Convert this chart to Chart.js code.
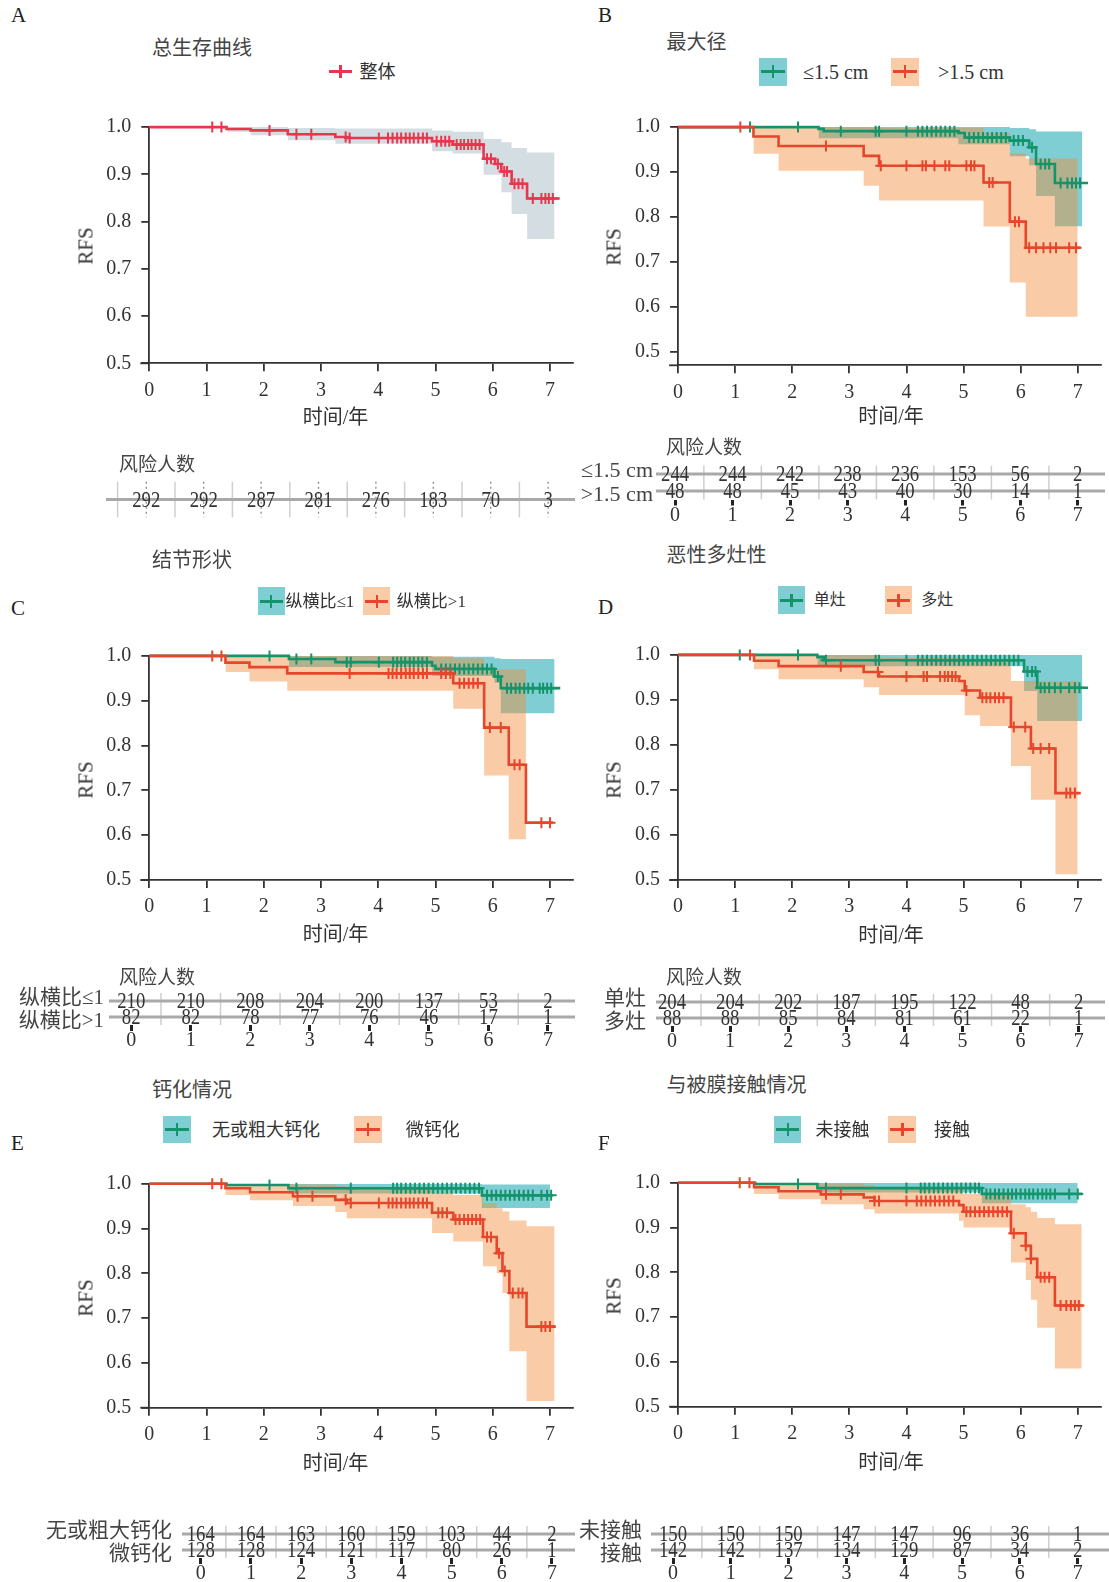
<!DOCTYPE html>
<html><head><meta charset="utf-8">
<script src="https://cdn.jsdelivr.net/npm/chart.js@4.4.1/dist/chart.umd.min.js"></script>
<style>
html,body{margin:0;padding:0;background:#fff;}
body{width:1109px;height:1582px;position:relative;overflow:hidden;}
canvas{position:absolute;}
.t{position:absolute;white-space:nowrap;line-height:1;}
</style></head><body>
<script>
// ---------------- DATA ----------------
const xTicks = [0, 1, 2, 3, 4, 5, 6, 7];
const yTicks = [0.5, 0.6, 0.7, 0.8, 0.9, 1.0];
const riskCols = [0, 1, 2, 3, 4, 5, 6, 7];

// A: overall
const A_time = [0, 1.35, 1.77, 2.42, 3.25, 3.45, 4.94, 5.30, 5.84, 6.04, 6.15, 6.33, 6.60];
const A_surv = [1.0, 0.996, 0.993, 0.985, 0.979, 0.977, 0.970, 0.963, 0.933, 0.922, 0.906, 0.880, 0.849];
const A_end = 7.17;
const A_cens = [1.10, 1.26, 2.10, 2.57, 2.83, 3.43, 3.50, 4.01, 4.17, 4.25, 4.33, 4.40, 4.48, 4.55, 4.62, 4.70, 4.78, 4.85, 5.02, 5.10, 5.17, 5.24, 5.37, 5.44, 5.50, 5.57, 5.63, 5.70, 5.77, 5.90, 5.97, 6.09, 6.20, 6.25, 6.38, 6.45, 6.52, 6.70, 6.85, 6.92, 6.98, 7.05];
const A_ciTime = [1.35, 1.77, 2.42, 3.25, 4.94, 5.30, 5.84, 6.15, 6.33, 6.60];
const A_ciLow = [0.990, 0.983, 0.972, 0.965, 0.949, 0.944, 0.899, 0.862, 0.816, 0.763];
const A_ciHigh = [1.0, 1.0, 0.998, 0.997, 0.993, 0.990, 0.975, 0.968, 0.956, 0.946];
const A_ciEnd = 7.08;
const A_risk = [292, 292, 287, 281, 276, 183, 70, 3];

// B: max diameter
const B_labels = ['≤1.5 cm', '>1.5 cm'];
const B1_time = [0, 2.46, 2.55, 4.91, 5.02, 5.81, 6.15, 6.27, 6.60];
const B1_surv = [1.0, 0.996, 0.991, 0.987, 0.977, 0.970, 0.955, 0.918, 0.876];
const B1_end = 7.18;
const B1_cens = [1.26, 2.10, 2.85, 3.46, 3.52, 4.00, 4.20, 4.28, 4.36, 4.44, 4.52, 4.60, 4.68, 4.76, 4.84, 5.10, 5.18, 5.26, 5.34, 5.42, 5.50, 5.58, 5.66, 5.74, 5.88, 5.96, 6.04, 6.20, 6.35, 6.43, 6.50, 6.70, 6.82, 6.90, 6.97, 7.04];
const B1_ciTime = [2.46, 4.91, 5.81, 6.15, 6.27, 6.60];
const B1_ciLow = [0.975, 0.962, 0.935, 0.915, 0.847, 0.780];
const B1_ciHigh = [1.0, 1.0, 0.998, 0.995, 0.990, 0.990];
const B1_ciEnd = 7.08;
const B2_time = [0, 1.32, 1.76, 3.25, 3.52, 5.35, 5.81, 6.09];
const B2_surv = [1.0, 0.979, 0.958, 0.936, 0.914, 0.877, 0.790, 0.732];
const B2_end = 7.05;
const B2_cens = [1.09, 2.59, 3.55, 4.00, 4.28, 4.34, 4.49, 4.68, 4.75, 5.05, 5.13, 5.19, 5.45, 5.51, 5.90, 5.97, 6.15, 6.27, 6.40, 6.52, 6.62, 6.85, 6.97];
const B2_ciTime = [1.32, 1.76, 3.25, 3.52, 5.35, 5.81, 6.09];
const B2_ciLow = [0.941, 0.903, 0.870, 0.837, 0.779, 0.655, 0.579];
const B2_ciHigh = [1.0, 1.0, 1.0, 0.998, 0.987, 0.942, 0.930];
const B2_ciEnd = 7.0;
const B1_risk = [244, 244, 242, 238, 236, 153, 56, 2];
const B2_risk = [48, 48, 45, 43, 40, 30, 14, 1];

// C: nodule shape
const C_labels = ['纵横比≤1', '纵横比>1'];
const C1_time = [0, 2.44, 3.25, 4.94, 5.00, 6.03, 6.14];
const C1_surv = [1.0, 0.993, 0.986, 0.978, 0.971, 0.954, 0.928];
const C1_end = 7.18;
const C1_cens = [2.10, 2.57, 2.83, 3.45, 3.52, 4.01, 4.26, 4.33, 4.40, 4.47, 4.55, 4.62, 4.70, 4.77, 4.85, 5.10, 5.18, 5.26, 5.34, 5.42, 5.50, 5.58, 5.66, 5.74, 5.82, 5.90, 5.98, 6.09, 6.25, 6.32, 6.40, 6.47, 6.55, 6.62, 6.70, 6.82, 6.88, 6.95, 7.02];
const C1_ciTime = [2.44, 4.94, 6.03, 6.14];
const C1_ciLow = [0.975, 0.955, 0.940, 0.872];
const C1_ciHigh = [1.0, 0.998, 0.995, 0.993];
const C1_ciEnd = 7.08;
const C2_time = [0, 1.33, 1.75, 2.41, 5.31, 5.85, 6.28, 6.58];
const C2_surv = [1.0, 0.985, 0.975, 0.961, 0.939, 0.840, 0.757, 0.628];
const C2_end = 7.05;
const C2_cens = [1.10, 1.26, 3.50, 4.18, 4.25, 4.32, 4.40, 4.48, 4.55, 4.62, 4.70, 4.78, 4.85, 5.10, 5.18, 5.26, 5.42, 5.50, 5.58, 5.66, 5.74, 5.95, 6.14, 6.38, 6.47, 6.85, 7.00];
const C2_ciTime = [1.33, 1.75, 2.41, 5.31, 5.85, 6.28];
const C2_ciLow = [0.964, 0.943, 0.922, 0.882, 0.733, 0.591];
const C2_ciHigh = [1.0, 1.0, 1.0, 0.995, 0.970, 0.970];
const C2_ciEnd = 6.58;
const C1_risk = [210, 210, 208, 204, 200, 137, 53, 2];
const C2_risk = [82, 82, 78, 77, 76, 46, 17, 1];

// D: multifocality
const D_labels = ['单灶', '多灶'];
const D1_time = [0, 2.44, 2.55, 6.06, 6.29];
const D1_surv = [1.0, 0.995, 0.988, 0.963, 0.927];
const D1_end = 7.18;
const D1_cens = [1.08, 2.10, 2.59, 3.46, 3.52, 4.00, 4.20, 4.28, 4.36, 4.44, 4.52, 4.60, 4.68, 4.76, 4.84, 4.92, 5.00, 5.08, 5.16, 5.24, 5.32, 5.40, 5.48, 5.56, 5.64, 5.72, 5.80, 5.88, 5.96, 6.12, 6.20, 6.26, 6.35, 6.42, 6.50, 6.60, 6.70, 6.85, 6.95, 7.03];
const D1_ciTime = [2.44, 6.06, 6.29];
const D1_ciLow = [0.975, 0.920, 0.853];
const D1_ciHigh = [1.0, 1.0, 1.0];
const D1_ciEnd = 7.08;
const D2_time = [0, 1.33, 1.76, 3.25, 3.52, 4.92, 5.02, 5.29, 5.83, 6.18, 6.61];
const D2_surv = [1.0, 0.987, 0.975, 0.962, 0.952, 0.942, 0.921, 0.905, 0.840, 0.792, 0.693];
const D2_end = 7.05;
const D2_cens = [1.26, 2.85, 3.50, 4.00, 4.30, 4.36, 4.59, 4.67, 4.73, 4.80, 4.86, 5.05, 5.33, 5.40, 5.47, 5.55, 5.62, 5.70, 5.88, 6.08, 6.22, 6.35, 6.50, 6.80, 6.87, 6.95];
const D2_ciTime = [1.33, 1.76, 3.25, 3.52, 5.02, 5.29, 5.83, 6.18, 6.61];
const D2_ciLow = [0.968, 0.946, 0.928, 0.911, 0.866, 0.842, 0.753, 0.678, 0.513];
const D2_ciHigh = [1.0, 1.0, 1.0, 0.995, 0.990, 0.985, 0.942, 0.942, 0.942];
const D2_ciEnd = 7.0;
const D1_risk = [204, 204, 202, 187, 195, 122, 48, 2];
const D2_risk = [88, 88, 85, 84, 81, 61, 22, 1];

// E: calcification
const E_labels = ['无或粗大钙化', '微钙化'];
const E1_time = [0, 1.35, 2.43, 5.81];
const E1_surv = [1.0, 0.997, 0.990, 0.974];
const E1_end = 7.05;
const E1_cens = [2.10, 2.57, 3.52, 4.26, 4.33, 4.40, 4.48, 4.56, 4.64, 4.72, 4.80, 4.88, 4.96, 5.04, 5.12, 5.20, 5.28, 5.36, 5.44, 5.52, 5.60, 5.68, 5.76, 5.90, 5.98, 6.06, 6.14, 6.22, 6.30, 6.38, 6.46, 6.54, 6.62, 6.70, 6.85, 6.95, 7.02];
const E1_ciTime = [2.43, 5.81];
const E1_ciLow = [0.978, 0.946];
const E1_ciHigh = [1.0, 0.998];
const E1_ciEnd = 7.0;
const E2_time = [0, 1.33, 1.76, 2.51, 3.25, 3.45, 4.94, 5.31, 5.83, 6.07, 6.17, 6.29, 6.59];
const E2_surv = [1.0, 0.990, 0.981, 0.972, 0.964, 0.957, 0.935, 0.920, 0.881, 0.845, 0.805, 0.756, 0.681];
const E2_end = 7.10;
const E2_cens = [1.10, 1.26, 2.59, 2.85, 3.43, 3.52, 4.01, 4.18, 4.25, 4.32, 4.40, 4.48, 4.55, 4.62, 4.70, 4.78, 4.85, 5.05, 5.12, 5.20, 5.35, 5.42, 5.50, 5.57, 5.64, 5.71, 5.78, 5.90, 5.97, 6.11, 6.21, 6.35, 6.45, 6.52, 6.85, 6.92, 7.00];
const E2_ciTime = [1.33, 1.76, 2.51, 3.25, 3.45, 4.94, 5.31, 5.83, 6.07, 6.17, 6.29, 6.59];
const E2_ciLow = [0.975, 0.963, 0.950, 0.937, 0.923, 0.890, 0.871, 0.816, 0.800, 0.756, 0.626, 0.515];
const E2_ciHigh = [1.0, 1.0, 0.998, 0.995, 0.990, 0.980, 0.975, 0.957, 0.945, 0.938, 0.918, 0.905];
const E2_ciEnd = 7.08;
const E1_risk = [164, 164, 163, 160, 159, 103, 44, 2];
const E2_risk = [128, 128, 124, 121, 117, 80, 26, 1];

// F: capsule contact
const F_labels = ['未接触', '接触'];
const F1_time = [0, 1.35, 2.44, 5.32];
const F1_surv = [1.0, 0.997, 0.988, 0.975];
const F1_end = 7.08;
const F1_cens = [2.10, 2.59, 4.00, 4.25, 4.32, 4.40, 4.48, 4.56, 4.64, 4.72, 4.80, 4.88, 4.96, 5.04, 5.12, 5.20, 5.27, 5.40, 5.47, 5.55, 5.62, 5.70, 5.78, 5.85, 5.92, 6.00, 6.08, 6.15, 6.22, 6.30, 6.38, 6.45, 6.52, 6.60, 6.85, 7.00];
const F1_ciTime = [2.44, 5.32];
const F1_ciLow = [0.978, 0.954];
const F1_ciHigh = [1.0, 1.0];
const F1_ciEnd = 7.0;
const F2_time = [0, 1.33, 1.76, 2.50, 3.25, 3.44, 4.92, 5.00, 5.83, 6.09, 6.18, 6.29, 6.60];
const F2_surv = [1.0, 0.990, 0.981, 0.974, 0.967, 0.959, 0.950, 0.935, 0.887, 0.859, 0.830, 0.789, 0.726];
const F2_end = 7.10;
const F2_cens = [1.08, 1.25, 2.59, 2.85, 3.44, 3.52, 4.00, 4.18, 4.26, 4.34, 4.42, 4.50, 4.58, 4.66, 4.74, 4.82, 5.05, 5.12, 5.20, 5.28, 5.36, 5.44, 5.52, 5.60, 5.68, 5.76, 5.88, 6.09, 6.18, 6.35, 6.42, 6.50, 6.70, 6.80, 6.88, 6.95, 7.02];
const F2_ciTime = [1.33, 1.76, 2.50, 3.25, 3.44, 4.92, 5.00, 5.83, 6.09, 6.18, 6.29, 6.60];
const F2_ciLow = [0.975, 0.963, 0.952, 0.941, 0.931, 0.915, 0.900, 0.822, 0.783, 0.739, 0.676, 0.585];
const F2_ciHigh = [1.0, 1.0, 0.998, 0.995, 0.990, 0.985, 0.975, 0.952, 0.945, 0.935, 0.921, 0.907];
const F2_ciEnd = 7.07;
const F1_risk = [150, 150, 150, 147, 147, 96, 36, 1];
const F2_risk = [142, 142, 137, 134, 129, 87, 34, 2];

// ---------------- STYLE ----------------
const SERIF = '"Liberation Serif", "Noto Sans CJK SC", serif';
const CJK = '"Noto Sans CJK SC", sans-serif';
const GREEN = '#14946a';
const ORANGE = '#e6462b';
const RED_A = '#e8364e';
const TEAL_BAND = 'rgba(20,165,175,0.55)';
const ORANGE_BAND = 'rgba(245,140,60,0.45)';
const GRAY_BAND = 'rgba(160,182,190,0.45)';
const AXIS = '#333';

// ---------------- HELPERS ----------------
function mkCanvas(l, t, w, h) {
  const c = document.createElement('canvas');
  c.width = w; c.height = h;
  c.style.left = l + 'px'; c.style.top = t + 'px';
  c.style.width = w + 'px'; c.style.height = h + 'px';
  document.body.appendChild(c);
  return c;
}
function txt(s, x, y, size, family, color, anchor, rotate) {
  const d = document.createElement('div');
  d.className = 't';
  d.textContent = s;
  d.style.left = x + 'px'; d.style.top = y + 'px';
  d.style.fontSize = size + 'px'; d.style.fontFamily = family; d.style.color = color || '#333';
  let tx = anchor === 'center' ? '-50%' : (anchor === 'right' ? '-100%' : '0');
  d.style.transform = 'translate(' + tx + ',-50%)';
  if (rotate) { d.style.transformOrigin = '0 0'; d.style.transform = 'rotate(' + rotate + 'deg) translate(-50%,-50%)'; }
  document.body.appendChild(d);
  return d;
}
function rect(l, t, w, h, bg) {
  const d = document.createElement('div');
  d.style.position = 'absolute'; d.style.left = l + 'px'; d.style.top = t + 'px';
  d.style.width = w + 'px'; d.style.height = h + 'px'; d.style.background = bg;
  document.body.appendChild(d);
}
function legendSym(l, r, cy, color) {
  rect(l, cy - 1.5, r - l, 3, color);
  rect((l + r) / 2 - 1.25, cy - 6.5, 2.5, 13, color);
}
function stepPts(times, vals, end) {
  const p = times.map((t, i) => ({ x: t, y: vals[i] }));
  p.push({ x: end, y: vals[vals.length - 1] });
  return p;
}
function stepAt(times, vals, t) {
  let v = vals[0];
  for (let i = 0; i < times.length; i++) if (times[i] <= t) v = vals[i];
  return v;
}

const axisExt = {
  id: 'axisExt',
  afterDraw(chart) {
    const { ctx, chartArea: a } = chart;
    ctx.save(); ctx.strokeStyle = AXIS; ctx.lineWidth = 1.8;
    ctx.beginPath(); ctx.moveTo(a.left - 9, a.bottom); ctx.lineTo(a.left, a.bottom); ctx.stroke();
    ctx.restore();
  }
};

function makePanel(p) {
  const cl = Math.floor(p.L - 80), ct = Math.floor(p.T - 30), cr = Math.ceil(p.R + 15), cb = Math.ceil(p.B + 45);
  const cv = mkCanvas(cl, ct, cr - cl, cb - ct);
  const ds = [];
  p.groups.forEach((g, gi) => {
    ds.push({ data: stepPts(g.ciT, g.ciHi, g.ciEnd), stepped: true, borderWidth: 0, borderColor: 'rgba(0,0,0,0)', pointRadius: 0, fill: false, order: 10 - gi * 2 });
    ds.push({ data: stepPts(g.ciT, g.ciLo, g.ciEnd), stepped: true, borderWidth: 0, borderColor: 'rgba(0,0,0,0)', pointRadius: 0, fill: '-1', backgroundColor: g.band, order: 10 - gi * 2 });
  });
  p.groups.forEach((g, gi) => {
    ds.push({ data: stepPts(g.time, g.surv, g.end), stepped: true, borderColor: g.color, borderWidth: 2.6, pointRadius: 0, fill: false, order: 5 - gi * 2, clip: false });
    ds.push({ data: g.cens.map(t => ({ x: t, y: stepAt(g.time, g.surv, t) })), showLine: false, pointStyle: 'cross', pointRadius: 5.5, pointBorderWidth: 2, borderColor: g.color, backgroundColor: g.color, order: 4 - gi * 2, clip: false });
  });
  const gridOpt = { display: true, drawOnChartArea: false, drawTicks: true, tickLength: 8, color: AXIS, lineWidth: 1.8 };
  new Chart(cv, {
    type: 'line',
    data: { datasets: ds },
    options: {
      responsive: false, animation: false, devicePixelRatio: 1, events: [],
      layout: { padding: { left: 0, top: p.T - ct, right: cr - p.R, bottom: 0 } },
      plugins: { legend: { display: false }, tooltip: { enabled: false } },
      scales: {
        x: {
          type: 'linear', min: 0, max: 7.4,
          afterBuildTicks(s) { s.ticks = xTicks.map(v => ({ value: v })); },
          afterFit(s) { s.height = cb - p.B; },
          grid: gridOpt, border: { display: true, color: AXIS, width: 1.8 },
          ticks: { font: { family: SERIF, size: 20, lineHeight: 1 }, color: '#333', padding: 9, maxRotation: 0, autoSkip: false, callback: v => String(v) }
        },
        y: {
          type: 'linear', min: p.ymin, max: 1.0,
          afterBuildTicks(s) { s.ticks = yTicks.map(v => ({ value: v })); },
          afterFit(s) { s.width = p.L - cl; },
          grid: gridOpt, border: { display: true, color: AXIS, width: 1.8 },
          ticks: { font: { family: SERIF, size: 20, lineHeight: 1 }, color: '#333', padding: 10, autoSkip: false, callback: v => Number(v).toFixed(1) }
        }
      }
    },
    plugins: [axisExt]
  });
}

function makeTable(tb) {
  const cl = tb.cl, cr = tb.cr;
  const ct = Math.floor(tb.T - 25);
  const cb = Math.min(1582, Math.ceil(tb.B + 32));
  const cv = mkCanvas(cl, ct, cr - cl, cb - ct);
  const min = (tb.L - tb.x0) / tb.step, max = (tb.R - tb.x0) / tb.step;
  const labelDy = [-3, 4];
  const ds = tb.rows.map((r, ri) => ({ nums: r.vals, rowLabel: r.label, data: riskCols.map(c => ({ x: c, y: ri })), pointRadius: 0, showLine: false }));
  const plug = {
    id: 'riskTable',
    beforeDatasetsDraw(chart) {
      const { ctx, chartArea: a, scales } = chart;
      const xs = scales.x, ys = scales.y;
      ctx.save();
      ctx.strokeStyle = '#cfcfcf'; ctx.lineWidth = 1.5;
      tb.vlines.forEach(v => {
        const px = xs.getPixelForValue(v);
        ctx.beginPath(); ctx.moveTo(px, a.top); ctx.lineTo(px, a.bottom); ctx.stroke();
      });
      if (tb.dotted) {
        ctx.strokeStyle = '#8a8a8a'; ctx.setLineDash([2, 3]); ctx.lineWidth = 1.3;
        riskCols.forEach(v => {
          const px = xs.getPixelForValue(v);
          ctx.beginPath(); ctx.moveTo(px, a.top); ctx.lineTo(px, a.bottom); ctx.stroke();
        });
        ctx.setLineDash([]);
      }
      ctx.strokeStyle = '#a9a9a9'; ctx.lineWidth = 3;
      tb.rows.forEach((r, ri) => {
        const py = ys.getPixelForValue(ri);
        ctx.beginPath(); ctx.moveTo(a.left, py); ctx.lineTo(a.right, py); ctx.stroke();
      });
      ctx.restore();
    },
    afterDatasetsDraw(chart) {
      const { ctx } = chart;
      ctx.save();
      ctx.fillStyle = '#333'; ctx.textAlign = 'center'; ctx.textBaseline = 'middle';
      ctx.font = '24px ' + SERIF;
      chart.data.datasets.forEach((d, i) => {
        const meta = chart.getDatasetMeta(i);
        meta.data.forEach((el, j) => {
          ctx.save(); ctx.translate(el.x, el.y + 1); ctx.scale(0.78, 1);
          ctx.fillText(String(d.nums[j]), 0, 0); ctx.restore();
        });
        if (d.rowLabel) {
          ctx.save(); ctx.textAlign = 'right'; ctx.fillStyle = '#444'; ctx.font = tb.labelSize + 'px ' + SERIF;
          ctx.fillText(d.rowLabel, tb.labelRight - cl, chart.scales.y.getPixelForValue(i) + labelDy[i]);
          ctx.restore();
        }
      });
      ctx.restore();
    }
  };
  new Chart(cv, {
    type: 'scatter',
    data: { datasets: ds },
    options: {
      responsive: false, animation: false, devicePixelRatio: 1, events: [],
      layout: { padding: { left: tb.L - cl, right: cr - tb.R, top: tb.T - ct, bottom: tb.ticks ? 0 : (cb - tb.B) } },
      plugins: { legend: { display: false }, tooltip: { enabled: false } },
      scales: {
        x: {
          type: 'linear', min, max, display: tb.ticks,
          afterBuildTicks(s) { s.ticks = riskCols.map(v => ({ value: v })); },
          afterFit(s) { s.height = tb.ticks ? (cb - tb.B) : 0; },
          grid: { display: true, drawOnChartArea: false, drawTicks: true, tickLength: 6, lineWidth: 3, color: '#222' },
          border: { display: false },
          ticks: { font: { family: SERIF, size: 20, lineHeight: 1 }, color: '#333', padding: 0, autoSkip: false, maxRotation: 0, callback: v => String(v) }
        },
        y: { type: 'linear', display: false, reverse: true, min: -0.5, max: tb.rows.length - 0.5 }
      }
    },
    plugins: [plug]
  });
}

// ---------------- PANELS ----------------
const LX = 149.3, LR = 149.3 + 7.4 * 57.24;
const RX = 678.1, RR = 678.1 + 7.4 * 57.09;
const G = (time, surv, end, cens, ciT, ciLo, ciHi, ciEnd, color, band) => ({ time, surv, end, cens, ciT, ciLo, ciHi, ciEnd, color, band });

makePanel({ L: LX, R: LR, T: 127.1, B: 363.3, ymin: 0.5, groups: [
  G(A_time, A_surv, A_end, A_cens, A_ciTime, A_ciLow, A_ciHigh, A_ciEnd, RED_A, GRAY_BAND)] });
makePanel({ L: RX, R: RR, T: 127.1, B: 365.3, ymin: 0.471, groups: [
  G(B1_time, B1_surv, B1_end, B1_cens, B1_ciTime, B1_ciLow, B1_ciHigh, B1_ciEnd, GREEN, TEAL_BAND),
  G(B2_time, B2_surv, B2_end, B2_cens, B2_ciTime, B2_ciLow, B2_ciHigh, B2_ciEnd, ORANGE, ORANGE_BAND)] });
makePanel({ L: LX, R: LR, T: 655.9, B: 880, ymin: 0.5, groups: [
  G(C1_time, C1_surv, C1_end, C1_cens, C1_ciTime, C1_ciLow, C1_ciHigh, C1_ciEnd, GREEN, TEAL_BAND),
  G(C2_time, C2_surv, C2_end, C2_cens, C2_ciTime, C2_ciLow, C2_ciHigh, C2_ciEnd, ORANGE, ORANGE_BAND)] });
makePanel({ L: RX, R: RR, T: 654.9, B: 880, ymin: 0.5, groups: [
  G(D1_time, D1_surv, D1_end, D1_cens, D1_ciTime, D1_ciLow, D1_ciHigh, D1_ciEnd, GREEN, TEAL_BAND),
  G(D2_time, D2_surv, D2_end, D2_cens, D2_ciTime, D2_ciLow, D2_ciHigh, D2_ciEnd, ORANGE, ORANGE_BAND)] });
makePanel({ L: LX, R: LR, T: 1183.7, B: 1407.7, ymin: 0.5, groups: [
  G(E1_time, E1_surv, E1_end, E1_cens, E1_ciTime, E1_ciLow, E1_ciHigh, E1_ciEnd, GREEN, TEAL_BAND),
  G(E2_time, E2_surv, E2_end, E2_cens, E2_ciTime, E2_ciLow, E2_ciHigh, E2_ciEnd, ORANGE, ORANGE_BAND)] });
makePanel({ L: RX, R: RR, T: 1182.7, B: 1406.7, ymin: 0.5, groups: [
  G(F1_time, F1_surv, F1_end, F1_cens, F1_ciTime, F1_ciLow, F1_ciHigh, F1_ciEnd, GREEN, TEAL_BAND),
  G(F2_time, F2_surv, F2_end, F2_cens, F2_ciTime, F2_ciLow, F2_ciHigh, F2_ciEnd, ORANGE, ORANGE_BAND)] });

// ---------------- RISK TABLES ----------------
const halfLines = [0.5, 1.5, 2.5, 3.5, 4.5, 5.5, 6.5];
makeTable({ cl: 95, cr: 590, L: 106, R: 575, T: 481.7, B: 517.3, x0: 146.3, step: 57.4, ticks: false, dotted: true,
  vlines: [-0.5].concat(halfLines), rows: [{ label: '', vals: A_risk }] });
makeTable({ cl: 560, cr: 1109, L: 656, R: 1105, T: 465.5, B: 499.5, x0: 675.1, step: 57.51, ticks: true,
  vlines: halfLines, labelRight: 653, labelSize: 22, rows: [{ label: B_labels[0], vals: B1_risk }, { label: B_labels[1], vals: B2_risk }] });
makeTable({ cl: 0, cr: 590, L: 109, R: 575, T: 993, B: 1025, x0: 131.2, step: 59.54, ticks: true,
  vlines: halfLines, labelRight: 104, labelSize: 21, rows: [{ label: C_labels[0], vals: C1_risk }, { label: C_labels[1], vals: C2_risk }] });
makeTable({ cl: 580, cr: 1109, L: 656, R: 1105, T: 994, B: 1026, x0: 672, step: 58.1, ticks: true,
  vlines: halfLines, labelRight: 646, labelSize: 21, rows: [{ label: D_labels[0], vals: D1_risk }, { label: D_labels[1], vals: D2_risk }] });
makeTable({ cl: 0, cr: 590, L: 182, R: 575, T: 1526, B: 1558, x0: 200.8, step: 50.17, ticks: true,
  vlines: halfLines, labelRight: 172, labelSize: 21, rows: [{ label: E_labels[0], vals: E1_risk }, { label: E_labels[1], vals: E2_risk }] });
makeTable({ cl: 570, cr: 1109, L: 651, R: 1109, T: 1526, B: 1558, x0: 673, step: 57.81, ticks: true,
  vlines: halfLines, labelRight: 642, labelSize: 21, rows: [{ label: F_labels[0], vals: F1_risk }, { label: F_labels[1], vals: F2_risk }] });

// ---------------- TEXT: letters, titles, legends, axis titles ----------------
[['A', 11, 15], ['B', 598, 15], ['C', 11, 608], ['D', 598, 607], ['E', 11, 1143], ['F', 598, 1143]]
  .forEach(([s, x, y]) => txt(s, x, y, 21, SERIF, '#222'));
[['总生存曲线', 152, 46.6], ['最大径', 666.5, 41.4], ['结节形状', 152, 559.2], ['恶性多灶性', 666.5, 553.9], ['钙化情况', 152, 1089.2], ['与被膜接触情况', 666.5, 1083.8]]
  .forEach(([s, x, y]) => txt(s, x, y, 20, CJK, '#444'));

// legend A
legendSym(329, 352, 71.5, RED_A); txt('整体', 359.6, 71.5, 18, SERIF, '#333');
// legends with boxes
function legendBox(l, t, r, b, band, color) { rect(l, t, r - l, b - t, band); legendSym(l + 2, r - 2, (t + b) / 2, color); }
legendBox(759.4, 58.1, 786.8, 85.8, TEAL_BAND, GREEN); txt(B_labels[0], 803, 72, 20, SERIF);
legendBox(890.9, 58.1, 918.9, 85.8, ORANGE_BAND, ORANGE); txt(B_labels[1], 938, 72, 20, SERIF);
legendBox(257.6, 587.2, 284.7, 614.9, TEAL_BAND, GREEN); txt(C_labels[0], 285.5, 601, 17, SERIF);
legendBox(363.4, 587.2, 390.5, 614.9, ORANGE_BAND, ORANGE); txt(C_labels[1], 396.8, 601, 17, SERIF);
legendBox(777.6, 586.3, 805, 614, TEAL_BAND, GREEN); txt(D_labels[0], 813.7, 600, 16, SERIF);
legendBox(884.9, 586.3, 911.9, 614, ORANGE_BAND, ORANGE); txt(D_labels[1], 921.3, 600, 16, SERIF);
legendBox(163, 1115.8, 190.9, 1143.1, TEAL_BAND, GREEN); txt(E_labels[0], 212, 1129.8, 18, SERIF);
legendBox(354.1, 1115.8, 382, 1143.1, ORANGE_BAND, ORANGE); txt(E_labels[1], 405.8, 1129.8, 18, SERIF);
legendBox(774.1, 1115.7, 801.5, 1142.9, TEAL_BAND, GREEN); txt(F_labels[0], 815.5, 1129.6, 18, SERIF);
legendBox(888.4, 1115.7, 916.4, 1142.9, ORANGE_BAND, ORANGE); txt(F_labels[1], 934, 1129.6, 18, SERIF);

// axis titles
[[335.5, 417], [891, 416], [335.5, 934], [891, 935], [335.5, 1462.6], [891, 1461.6]]
  .forEach(([x, y]) => txt('时间/年', x, y, 20, SERIF, '#333', 'center'));
[[86, 246], [614, 246.5], [86, 780], [614, 779.7], [86, 1298], [614, 1296]]
  .forEach(([x, y]) => txt('RFS', x, y, 21, SERIF, '#333', 'center', -90));
// risk table headers
[[119, 462], [666, 445], [119, 975], [666, 975]].forEach(([x, y]) => txt('风险人数', x, y, 19, CJK, '#444'));
</script>
</body></html>
